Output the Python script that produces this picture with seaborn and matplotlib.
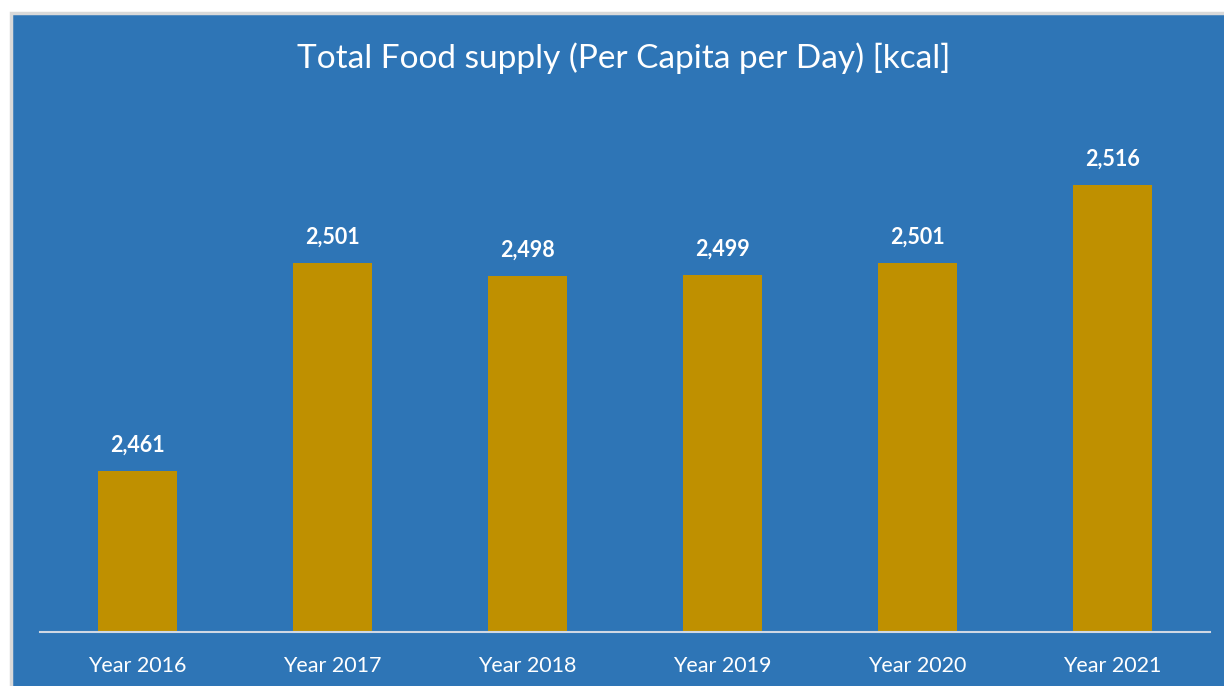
import matplotlib
matplotlib.use("Agg")
import matplotlib.pyplot as plt
import seaborn as sns
import pandas as pd
from matplotlib.patches import Rectangle

categories = ["Year 2016", "Year 2017", "Year 2018", "Year 2019", "Year 2020", "Year 2021"]
values = [2461, 2501, 2498.4, 2498.6, 2501, 2516]
title = "Total Food supply (Per Capita per Day) [kcal]"

BLUE = "#2E75B6"
GOLD = "#BF9000"

sns.set_theme(style="white")
plt.rcParams['font.family'] = ['Lato', 'DejaVu Sans']

W, H = 1224, 686
fig = plt.figure(figsize=(W / 100, H / 100), dpi=100)
fig.patch.set_facecolor("white")
fig.patches.append(Rectangle((11 / W, -0.01), 1.02, 1 - 13 / H + 0.01, transform=fig.transFigure,
                             facecolor=BLUE, edgecolor="#D9D9D9", linewidth=2.5, zorder=-5))

ax = fig.add_axes([40 / W, 54 / H, 1170 / W, (632 - 112) / H])
ax.set_zorder(2)
ax.set_facecolor("none")
df = pd.DataFrame({"cat": categories, "val": values})
sns.barplot(data=df, x="cat", y="val", color=GOLD, saturation=1, width=0.405,
            linewidth=0, edgecolor=GOLD, ax=ax)
ax.set_ylim(2430, 2530)
ax.set_xlim(-0.5, len(categories) - 0.5)
ax.set_xlabel("")
ax.set_ylabel("")
ax.set_yticks([])
for s in ["top", "right", "left"]:
    ax.spines[s].set_visible(False)
ax.spines["bottom"].set_color("#D0D8E4")
ax.spines["bottom"].set_linewidth(1.5)
ax.tick_params(axis="x", colors="white", labelsize=15.5, length=0, pad=17)
for lbl in ax.get_xticklabels():
    lbl.set_color("white")

for c in ax.containers:
    ax.bar_label(c, labels=[f"{v:,.0f}" for v in values], padding=11, color="white",
                 fontsize=15.5, fontweight="bold")

fig.text(624 / W, 1 - 58 / H, title, ha="center", va="center", color="white", fontsize=24, zorder=3)

fig.savefig("out.png", dpi=100)
